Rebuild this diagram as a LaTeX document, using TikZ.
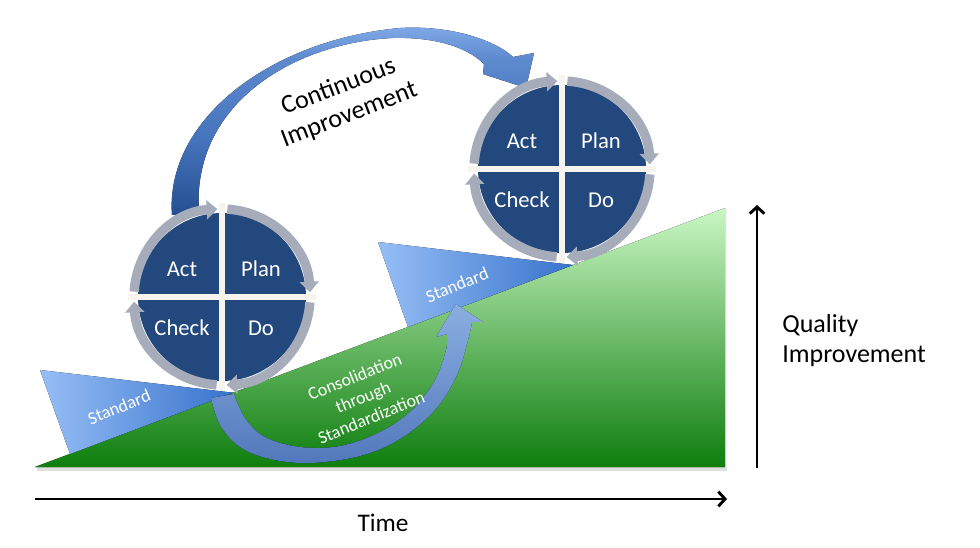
\documentclass[tikz,border=0pt]{standalone}
\usepackage{fontspec}
\setmainfont{Carlito}
\usetikzlibrary{arrows.meta}
\definecolor{pdcablue}{RGB}{35,72,125}
\definecolor{ringgray}{RGB}{166,172,186}
\definecolor{crosscol}{RGB}{246,244,236}
\definecolor{greenlight}{RGB}{202,247,196}
\definecolor{greendark}{RGB}{14,126,14}
\definecolor{stdlight}{RGB}{150,190,245}
\definecolor{stddark}{RGB}{56,116,204}
\definecolor{ciLight}{RGB}{128,170,232}
\definecolor{ciMid}{RGB}{70,116,188}
\definecolor{ciDark}{RGB}{36,78,144}
\definecolor{csLight}{RGB}{150,188,244}
\definecolor{csDark}{RGB}{90,130,204}
\pgfdeclareverticalshading{cishade}{100bp}{color(0bp)=(ciDark); color(25bp)=(ciDark); color(45bp)=(ciMid); color(66bp)=(ciMid!60!ciLight); color(75bp)=(ciLight); color(100bp)=(ciLight)}
\tikzset{
  ringarrow/.style={draw=ringgray, line width=7pt, line cap=butt, -{Triangle[length=8pt,width=14pt]}},
  crossline/.style={draw=crosscol, line width=4.5pt},
  pdcatext/.style={text=white, inner sep=0pt, font=\fontsize{17}{20}\selectfont},
  stdtext/.style={text=white, inner sep=0pt, font=\fontsize{13.5}{16}\selectfont, rotate=22},
  axisarrow/.style={line width=2.2pt, -{Straight Barb[length=5pt,width=11pt]}},
  bigtext/.style={inner sep=0pt, font=\fontsize{19.5}{22.5}\selectfont},
  pdca/.pic={
    \fill[pdcablue] (0,0) circle[radius=84];
    \draw[crossline] (0,-94) -- (0,94);
    \draw[crossline] (-94,0) -- (94,0);
    \draw[ringarrow] (-176.5:88) arc[start angle=-176.5, end angle=-93, radius=88];
    \draw[ringarrow] (-86.5:88) arc[start angle=-86.5, end angle=-3, radius=88];
    \draw[ringarrow] (3.5:88) arc[start angle=3.5, end angle=87, radius=88];
    \draw[ringarrow] (93.5:88) arc[start angle=93.5, end angle=177, radius=88];
    \node[pdcatext] (-act) at (-40,-28) {Act};
    \node[pdcatext] (-plan) at (39,-28) {Plan};
    \node[pdcatext] (-check) at (-40,31) {Check};
    \node[pdcatext] (-do) at (39,31) {Do};
  }
}
\begin{document}
\begin{tikzpicture}[x=0.75pt,y=-0.75pt]
\useasboundingbox[fill=white] (0,0) rectangle (980,548);

% quality area
\coordinate (g0) at (35,467);
\coordinate (g1) at (725,467);
\coordinate (g2) at (725,208);
\fill[black!12] (37,467) -- (727,467) -- (727,471) -- (37,471) -- cycle;
\fill[top color=greenlight, bottom color=greendark] (g0) -- (g1) -- (g2) -- cycle;

% standard wedges
\fill[left color=stdlight, right color=stddark] (40,370) -- (233,392.7) -- (70,454) -- cycle;
\fill[left color=stdlight, right color=stddark] (378,242) -- (573,265) -- (408,327) -- cycle;

% consolidation arrow
\fill[top color=csLight, bottom color=csDark, opacity=0.92]
  plot[smooth, tension=0.6] coordinates {(211,398) (220,425) (240,447) (270,459) (310,463) (360,456) (400,439) (435,410) (457,375) (468,340) (472,322)}
  -- (483,322) -- (456,304) -- (436,337)
  -- plot[smooth, tension=0.6] coordinates {(447,334) (446,350) (435,380) (412,410) (380,432) (340,446) (300,447) (265,437) (245,418) (234,394)}
  -- cycle;

% continuous improvement arrow
\fill[shading=cishade]
  (172,215) .. controls (165,120) and (270,40) .. (400,28)
  .. controls (450,25) and (495,40) .. (513,57)
  -- (534,53) -- (526,88) -- (483,74) -- (484,64)
  .. controls (465,45) and (430,37) .. (393,38)
  .. controls (300,42) and (190,100) .. (199,215)
  -- cycle;

% PDCA circles
\pic (left) at (222,297) {pdca};
\pic (right) at (562,169) {pdca};

% texts
\node[stdtext] (std1) at (119,407) {Standard};
\node[stdtext] (std2) at (457,285) {Standard};
\node[text=white, inner sep=0pt, align=center, rotate=22, font=\fontsize{13.4}{16.5}\selectfont] (cons) at (363,397) {Consolidation\\through\\Standardization};
\node[bigtext, align=center, rotate=21] (ci) at (344,101) {Continuous\\Improvement};

% axes
\coordinate (t0) at (35,499);
\coordinate (t1) at (727,499);
\draw[axisarrow] (t0) -- (t1);
\node[inner sep=0pt, font=\fontsize{19}{22}\selectfont] (time) at (383,523) {Time};
\coordinate (q0) at (757,468);
\coordinate (q1) at (757,205);
\draw[axisarrow] (q0) -- (q1);
\node[bigtext, align=left, anchor=west] (quality) at (782,341) {Quality\\Improvement};
\end{tikzpicture}
\end{document}
